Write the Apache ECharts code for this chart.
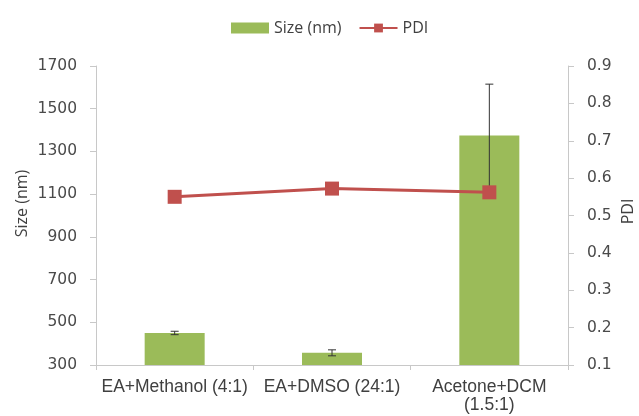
<!DOCTYPE html>
<html>
<head>
<meta charset="utf-8">
<script src="https://cdn.jsdelivr.net/npm/echarts@6/dist/echarts.min.js"></script>
<style>
  html, body { margin: 0; padding: 0; background: #fff; }
  #chart { width: 639px; height: 416px; }
</style>
</head>
<body>
<div id="chart"></div>
<script>
// Solvent systems on the x axis
var categories = ['EA+Methanol (4:1)', 'EA+DMSO (24:1)', 'Acetone+DCM\n(1.5:1)'];
// Particle size (nm) and its standard deviation
var sizeValues = [450, 357, 1375];
var sizeErrors = [8, 14, 240];
// Polydispersity index
var pdiValues = [0.55, 0.572, 0.562];
// Axis tick labels
var sizeTicks = [300, 500, 700, 900, 1100, 1300, 1500, 1700];
var pdiTicks = [0.1, 0.2, 0.3, 0.4, 0.5, 0.6, 0.7, 0.8, 0.9];

var errorData = sizeValues.map(function (v, i) {
  return [i, v - sizeErrors[i], v + sizeErrors[i]];
});

var axisGray = '#c8c8c8';
var textColor = '#404040';

var chart = echarts.init(document.getElementById('chart'));
chart.setOption({
  animation: false,
  legend: {
    top: 15,
    left: 226,
    itemGap: 17,
    itemWidth: 38,
    itemHeight: 11,
    textStyle: { fontFamily: 'Open Sans', fontSize: 16, color: textColor },
    data: [
      { name: 'Size (nm)', icon: 'rect' },
      { name: 'PDI' }
    ]
  },
  grid: { left: 96, right: 71, top: 66, bottom: 51, outerBoundsMode: 'none', containLabel: false },
  xAxis: {
    type: 'category',
    data: categories,
    boundaryGap: true,
    axisLine: { lineStyle: { color: axisGray, width: 1 } },
    axisTick: { show: true, length: 5, lineStyle: { color: axisGray } },
    axisLabel: {
      interval: 0,
      margin: 13,
      fontFamily: 'Liberation Sans',
      fontSize: 17.5,
      color: textColor,
      lineHeight: 18
    }
  },
  yAxis: [
    {
      type: 'value',
      min: 300,
      max: 1700,
      name: 'Size (nm)',
      nameLocation: 'middle',
      nameRotate: 90,
      nameGap: 66,
      nameMoveOverlap: false,
      nameTextStyle: { fontFamily: 'Open Sans', fontSize: 16, color: textColor, padding: [0, 0, 0, 24] },
      axisLine: { show: true, lineStyle: { color: axisGray } },
      axisTick: { show: true, length: 6, lineStyle: { color: axisGray }, customValues: sizeTicks },
      axisLabel: {
        customValues: sizeTicks,
        margin: 19,
        fontFamily: 'DejaVu Sans',
        fontSize: 15.5,
        color: '#4a4a4a',
        formatter: function (v) { return String(v); }
      },
      splitLine: { show: false }
    },
    {
      type: 'value',
      min: 0.1,
      max: 0.9,
      name: 'PDI',
      nameLocation: 'middle',
      nameRotate: 90,
      nameGap: 52,
      nameMoveOverlap: false,
      nameTextStyle: { fontFamily: 'Open Sans', fontSize: 16, color: textColor, padding: [0, 0, 0, 8] },
      axisLine: { show: true, lineStyle: { color: axisGray } },
      axisTick: { show: true, length: 6, lineStyle: { color: axisGray }, customValues: pdiTicks },
      axisLabel: {
        customValues: pdiTicks,
        margin: 19,
        fontFamily: 'DejaVu Sans',
        fontSize: 15.5,
        color: '#4a4a4a',
        formatter: function (v) { return v.toFixed(1); }
      },
      splitLine: { show: false }
    }
  ],
  series: [
    {
      name: 'Size (nm)',
      type: 'bar',
      yAxisIndex: 0,
      data: sizeValues,
      barWidth: 60,
      itemStyle: { color: '#9bbb59' },
      z: 1
    },
    {
      name: 'Size error',
      type: 'custom',
      yAxisIndex: 0,
      data: errorData,
      z: 2,
      renderItem: function (params, api) {
        var x = api.value(0);
        var lo = api.coord([x, api.value(1)]);
        var hi = api.coord([x, api.value(2)]);
        var half = 4;
        var style = { stroke: '#333', lineWidth: 1 };
        return {
          type: 'group',
          children: [
            { type: 'line', shape: { x1: hi[0], y1: hi[1], x2: lo[0], y2: lo[1] }, style: style },
            { type: 'line', shape: { x1: hi[0] - half, y1: hi[1], x2: hi[0] + half, y2: hi[1] }, style: style },
            { type: 'line', shape: { x1: lo[0] - half, y1: lo[1], x2: lo[0] + half, y2: lo[1] }, style: style }
          ]
        };
      }
    },
    {
      name: 'PDI',
      type: 'line',
      yAxisIndex: 1,
      data: pdiValues,
      symbol: 'rect',
      symbolSize: 14,
      lineStyle: { color: '#c0504d', width: 3 },
      itemStyle: { color: '#c0504d' },
      z: 3
    }
  ]
});
</script>
</body>
</html>
